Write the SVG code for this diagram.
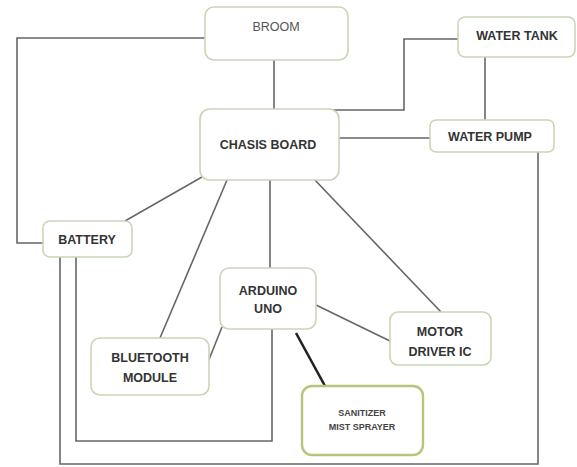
<svg xmlns="http://www.w3.org/2000/svg" width="577" height="467" viewBox="0 0 577 467">
<style>
.box{fill:#fff;stroke:#c9d6b6;stroke-width:1.6}
.san{fill:#fff;stroke:#b8c47c;stroke-width:2.4}
.t{font-family:"Liberation Sans",Arial,sans-serif;font-weight:bold;font-size:12.5px;fill:#333;text-anchor:middle}
.r{font-family:"Liberation Sans",Arial,sans-serif;font-size:12.5px;fill:#555;text-anchor:middle}
.s{font-family:"Liberation Sans",Arial,sans-serif;font-weight:bold;font-size:9px;fill:#444;text-anchor:middle}
.c{fill:none;stroke:#666;stroke-width:1.6}
.k{fill:none;stroke:#222;stroke-width:2.6}
</style>
<rect width="577" height="467" fill="#fff"/>
<g id="connectors">
<polyline class="c" points="205,38 17,38 17,243 43,243"/>
<line class="c" x1="274" y1="60" x2="274" y2="109"/>
<polyline class="c" points="458,39 404,39 404,110 331,110"/>
<line class="c" x1="485" y1="57" x2="485" y2="120"/>
<line class="c" x1="339" y1="138" x2="430" y2="138"/>
<polyline class="c" points="538,152 538,464 60,464 60,257"/>
<polyline class="c" points="76,257 76,441 272,441 272,329"/>
<line class="c" x1="202" y1="177" x2="125" y2="221"/>
<line class="c" x1="227" y1="180" x2="160" y2="338"/>
<line class="c" x1="270" y1="180" x2="270" y2="268"/>
<line class="c" x1="313" y1="178" x2="441" y2="312"/>
<line class="c" x1="222" y1="327" x2="208" y2="362"/>
<line class="c" x1="316" y1="305" x2="390" y2="341"/>
<line class="k" x1="296" y1="333" x2="325" y2="386"/>
</g>
<g id="broom">
<rect class="box" x="205" y="7" width="143" height="53" rx="9"/>
<text class="r" x="276" y="31">BROOM</text>
</g>
<g id="chasis-board">
<rect class="box" x="200" y="109" width="139" height="71" rx="10"/>
<text class="t" x="268" y="149">CHASIS BOARD</text>
</g>
<g id="water-tank">
<rect class="box" x="458" y="17" width="117" height="40" rx="7"/>
<text class="t" x="517" y="40">WATER TANK</text>
</g>
<g id="water-pump">
<rect class="box" x="430" y="120" width="124" height="32" rx="6"/>
<text class="t" x="490" y="141">WATER PUMP</text>
</g>
<g id="battery">
<rect class="box" x="43" y="221" width="89" height="36" rx="7"/>
<text class="t" x="87" y="244">BATTERY</text>
</g>
<g id="arduino-uno">
<rect class="box" x="220" y="268" width="96" height="61" rx="9"/>
<text class="t" x="268" y="295">ARDUINO</text>
<text class="t" x="268" y="313">UNO</text>
</g>
<g id="bluetooth-module">
<rect class="box" x="91" y="338" width="118" height="57" rx="9"/>
<text class="t" x="150" y="362">BLUETOOTH</text>
<text class="t" x="150" y="382">MODULE</text>
</g>
<g id="motor-driver-ic">
<rect class="box" x="390" y="312" width="101" height="53" rx="8"/>
<text class="t" x="440" y="336">MOTOR</text>
<text class="t" x="440" y="356">DRIVER IC</text>
</g>
<g id="sanitizer-mist-sprayer">
<rect class="san" x="302" y="386" width="121" height="69" rx="10"/>
<text class="s" x="362" y="416">SANITIZER</text>
<text class="s" x="362" y="430">MIST SPRAYER</text>
</g>
</svg>
